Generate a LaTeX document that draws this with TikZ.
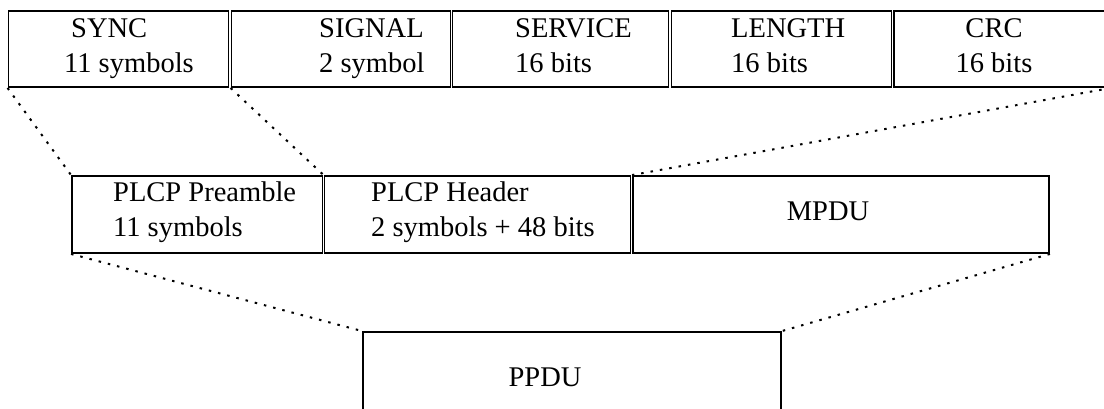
\documentclass[tikz,border=0pt]{standalone}
\usepackage{fontspec}
\setmainfont{Liberation Serif}
\usepackage{tikz}
\usetikzlibrary{shapes}

\begin{document}
\begin{tikzpicture}[field/.style={draw,rectangle,line width=1.9bp,inner sep=0pt},
  fieldtxt/.style={inner sep=0pt,align=left,font=\fontsize{28.5bp}{35bp}\selectfont},
  zoomline/.style={line width=2bp,dash pattern=on 2.5bp off 7bp,black}]

\useasboundingbox (0bp,0bp) rectangle (1104bp,-409bp);
\clip (0bp,0bp) rectangle (1104bp,-409bp);

% PLCP header fields
\node (SYNC) at (118.5bp,-49bp)[field,minimum width=220bp,minimum height=76bp] {};
\node (SIGNAL) at (341bp,-49bp)[field,minimum width=219bp,minimum height=76bp] {};
\node (SERVICE) at (560.5bp,-49bp)[field,minimum width=216bp,minimum height=76bp] {};
\node (LENGTH) at (781.5bp,-49bp)[field,minimum width=220bp,minimum height=76bp] {};
\node (CRC) at (1002bp,-49bp)[field,minimum width=216bp,minimum height=76bp] {};
\node (SYNCt) at (64bp,-12.5bp)[fieldtxt,anchor=north west] {\strut\hspace*{7bp}SYNC\\11 symbols};
\node (SIGNALt) at (319bp,-12.5bp)[fieldtxt,anchor=north west] {\strut SIGNAL\\2 symbol};
\node (SERVICEt) at (515bp,-12.5bp)[fieldtxt,anchor=north west] {\strut SERVICE\\16 bits};
\node (LENGTHt) at (731bp,-12.5bp)[fieldtxt,anchor=north west] {\strut LENGTH\\16 bits};
\node (CRCt) at (994bp,-12.5bp)[fieldtxt,align=center,anchor=north] {\strut CRC\\16 bits};

% PPDU parts
\node (PRE) at (197.25bp,-214.5bp)[field,minimum width=250.5bp,minimum height=77bp] {};
\node (HDR) at (477.5bp,-214.5bp)[field,minimum width=306bp,minimum height=77bp] {};
\node (MPDU) at (841bp,-214.5bp)[field,minimum width=416bp,minimum height=77bp] {};
\node (PREt) at (113bp,-176.5bp)[fieldtxt,anchor=north west] {\strut PLCP Preamble\\11 symbols};
\node (HDRt) at (371bp,-176.5bp)[fieldtxt,anchor=north west] {\strut PLCP Header\\2 symbols + 48 bits};
\node (MPDUt) at (828bp,-220bp)[fieldtxt,anchor=base] {MPDU};

\node (PPDU) at (572bp,-381bp)[field,minimum width=418bp,minimum height=98bp] {};
\node (PPDUt) at (545bp,-386bp)[fieldtxt,anchor=base] {PPDU};

\draw [zoomline] (SYNC.south west) -- (PRE.north west);
\draw [zoomline] (SIGNAL.south west) -- (HDR.north west);
\draw [zoomline] (CRC.south east) -- (MPDU.north west);
\draw [zoomline] (PRE.south west) -- (PPDU.north west);
\draw [zoomline] (MPDU.south east) -- (PPDU.north east);
\end{tikzpicture}
\end{document}
